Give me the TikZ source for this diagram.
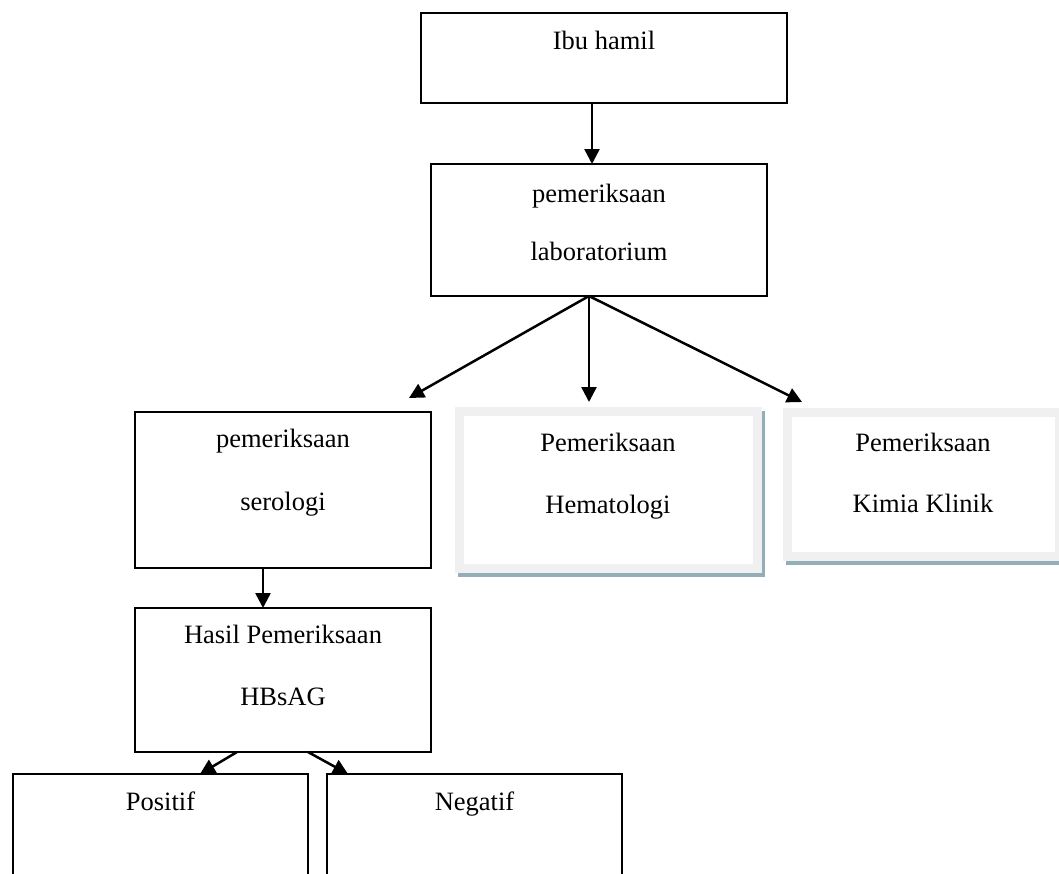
\documentclass[tikz,border=0pt]{standalone}
\usepackage{fontspec}
\setmainfont{Liberation Serif}
\usepackage{xcolor}
\usetikzlibrary{arrows.meta,shadows}

\definecolor{bandgray}{RGB}{240,240,240}
\definecolor{shadowblue}{RGB}{146,175,184}

\tikzset{
    box/.style={draw, line width=2pt, inner sep=0pt, outer sep=0pt},
    panel/.style={draw=bandgray, line width=9pt, fill=white, inner sep=0pt, outer sep=0pt,
        drop shadow={shadow xshift=3pt, shadow yshift=-4pt, fill=shadowblue,
            draw=shadowblue, line width=9pt, opacity=1}},
    txt/.style={font=\fontsize{26.5}{30}\selectfont, inner sep=0pt, anchor=base},
    arr/.style={-{Triangle[length=15pt, width=15pt]}, line width=2.5pt},
}

\begin{document}
\begin{tikzpicture}[x=1pt, y=-1pt]

    \useasboundingbox (0, 0) rectangle (1059, 873);

    % boxes
    \node [box, minimum width=366pt, minimum height=90pt] (ibu) at (604, 58) {};
    \node [box, minimum width=336pt, minimum height=132pt] (lab) at (599, 230) {};
    \node [box, minimum width=296pt, minimum height=156pt] (sero) at (283, 490) {};
    \node [panel, minimum width=298pt, minimum height=157pt] (hema) at (608.5, 490) {};
    \node [panel, minimum width=272pt, minimum height=144pt] (kimia) at (923.5, 484.5) {};
    \node [box, minimum width=296pt, minimum height=144pt] (hasil) at (283, 680) {};
    \node [box, minimum width=295pt, minimum height=150pt] (pos) at (160.5, 849) {};
    \node [box, minimum width=295pt, minimum height=150pt] (neg) at (474.5, 849) {};

    % texts
    \node [txt] (ibut) at (604, 49) {Ibu hamil};
    \node [txt] (labt1) at (599, 202) {pemeriksaan};
    \node [txt] (labt2) at (599, 260) {laboratorium};
    \node [txt] (serot1) at (283, 447) {pemeriksaan};
    \node [txt] (serot2) at (283, 510) {serologi};
    \node [txt] (hemat1) at (608, 451) {Pemeriksaan};
    \node [txt] (hemat2) at (608, 513) {Hematologi};
    \node [txt] (kimiat1) at (923, 451) {Pemeriksaan};
    \node [txt] (kimiat2) at (923, 512) {Kimia Klinik};
    \node [txt] (hasilt1) at (283, 643) {Hasil Pemeriksaan};
    \node [txt] (hasilt2) at (283, 705) {HBsAG};
    \node [txt] (post) at (160.5, 810) {Positif};
    \node [txt] (negt) at (474.5, 810) {Negatif};

    % arrows
    \draw [arr] ([xshift=-12pt]ibu.south) -- ([xshift=-7pt]lab.north);
    \draw [arr] ([xshift=-10pt]lab.south) -- ([xshift=-22pt, yshift=14pt]sero.north east);
    \draw [arr] ([xshift=-10pt]lab.south) -- ([xshift=-19.5pt, yshift=9.5pt]hema.north);
    \draw [arr] ([xshift=-10pt]lab.south) -- ([xshift=14.5pt, yshift=10.5pt]kimia.north west);
    \draw [arr] ([xshift=-20pt]sero.south) -- ([xshift=-20pt]hasil.north);
    \draw [arr] ([xshift=-46pt]hasil.south) -- ([xshift=39.5pt]pos.north);
    \draw [arr] ([xshift=25pt]hasil.south) -- ([xshift=21pt]neg.north west);

\end{tikzpicture}
\end{document}
